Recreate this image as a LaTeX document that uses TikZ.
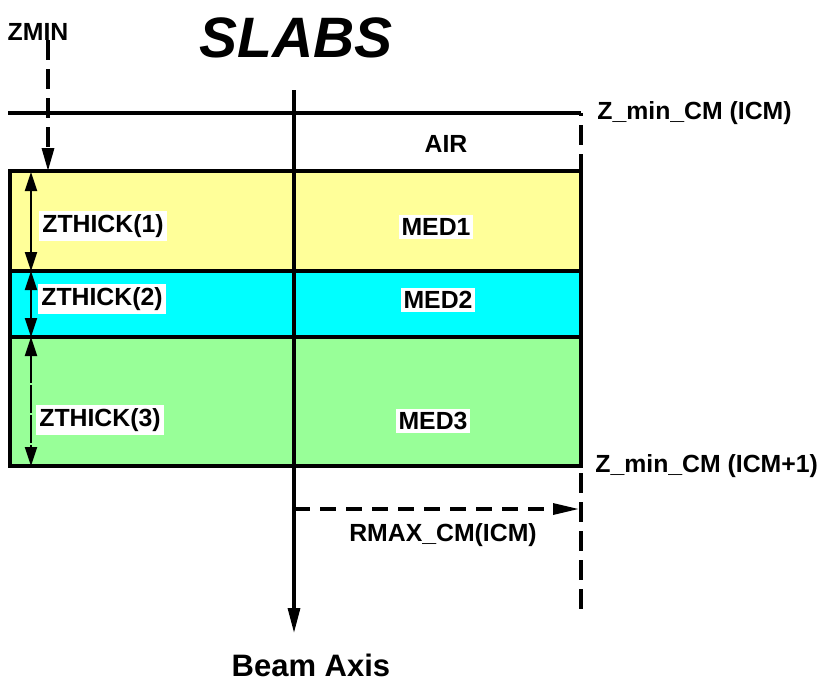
\documentclass[tikz,border=0pt]{standalone}
\usepackage{fontspec}
\setmainfont{Liberation Sans}
\usetikzlibrary{arrows.meta}
\definecolor{slabyellow}{RGB}{255,255,153}
\definecolor{slabcyan}{RGB}{0,255,255}
\definecolor{slabgreen}{RGB}{152,255,152}
\begin{document}
\begin{tikzpicture}[x=0.5pt,y=-0.5pt,
  lbl/.style={font=\fontsize{12.4}{14}\selectfont\bfseries, inner sep=1.5pt},
  wlbl/.style={lbl, fill=white},
  heavy/.style={line width=1.6pt},
  dashline/.style={line width=1.6pt, dash pattern=on 10pt off 4.5pt},
  bigtip/.style={-{Triangle[length=12.5pt,width=6pt]}},
  dimline/.style={line width=1.1pt, {Triangle[length=9.5pt,width=6pt]}-{Triangle[length=9.5pt,width=6pt]}},
  slab/.style={heavy, line join=miter}
]
\useasboundingbox (0,0) rectangle (817,682);
% coordinates
\coordinate (tl) at (8,113);
\coordinate (tr) at (581,113);
\coordinate (rb) at (581,612);
\coordinate (axtop) at (294,90);
\coordinate (axbot) at (294,633);
\coordinate (zs) at (48,40);
\coordinate (ze) at (48,171);
\coordinate (rs) at (294,509);
\coordinate (re) at (579,509);
\coordinate (d0) at (31,172);
\coordinate (d1) at (31,271);
\coordinate (d2) at (31,337);
\coordinate (d3) at (31,466);
% slabs
\draw[slab, fill=slabyellow] (10,171) rectangle (581,271);
\draw[slab, fill=slabcyan] (10,271) rectangle (581,337);
\draw[slab, fill=slabgreen] (10,337) rectangle (581,466);
% top line and right boundary
\draw[heavy] (tl) -- (tr);
\draw[dashline, dash phase=-6pt] (tr) -- (rb);
% beam axis
\draw[heavy, bigtip] (axtop) -- (axbot);
% ZMIN arrow
\draw[line width=1.6pt, dash pattern=on 10pt off 4.5pt, -{Triangle[length=11.5pt,width=6pt]}] (zs) -- (ze);
% RMAX arrow
\draw[line width=1.6pt, dash pattern=on 8pt off 5pt, -{Triangle[length=13pt,width=5.5pt]}] (rs) -- (re);
% thickness arrows
\draw[dimline] (d0) -- (d1);
\draw[dimline] (d1) -- (d2);
\draw[dimline, dash pattern=on 14pt off 1pt] (d2) -- (d3);
% labels
\node[font=\fontsize{28.5}{30}\selectfont\bfseries\itshape] (title) at (296,38) {SLABS};
\node[lbl] (zmin) at (38,32) {ZMIN};
\node[lbl] (air) at (446,144) {AIR};
\node[wlbl] (t1) at (103,226) {ZTHICK(1)};
\node[wlbl] (t2) at (102,299) {ZTHICK(2)};
\node[wlbl] (t3) at (100,420) {ZTHICK(3)};
\node[wlbl] (m1) at (436,227) {MED1};
\node[wlbl] (m2) at (438,300) {MED2};
\node[wlbl] (m3) at (433,421) {MED3};
\node[lbl, anchor=west] (zc1) at (594,113) {Z\_min\_CM (ICM)};
\node[lbl, anchor=west] (zc2) at (592,466) {Z\_min\_CM (ICM+1)};
\node[lbl] (rmax) at (443,535) {RMAX\_CM(ICM)};
\node[font=\fontsize{15.5}{17}\selectfont\bfseries] (beam) at (311,665) {Beam Axis};
\end{tikzpicture}
\end{document}
